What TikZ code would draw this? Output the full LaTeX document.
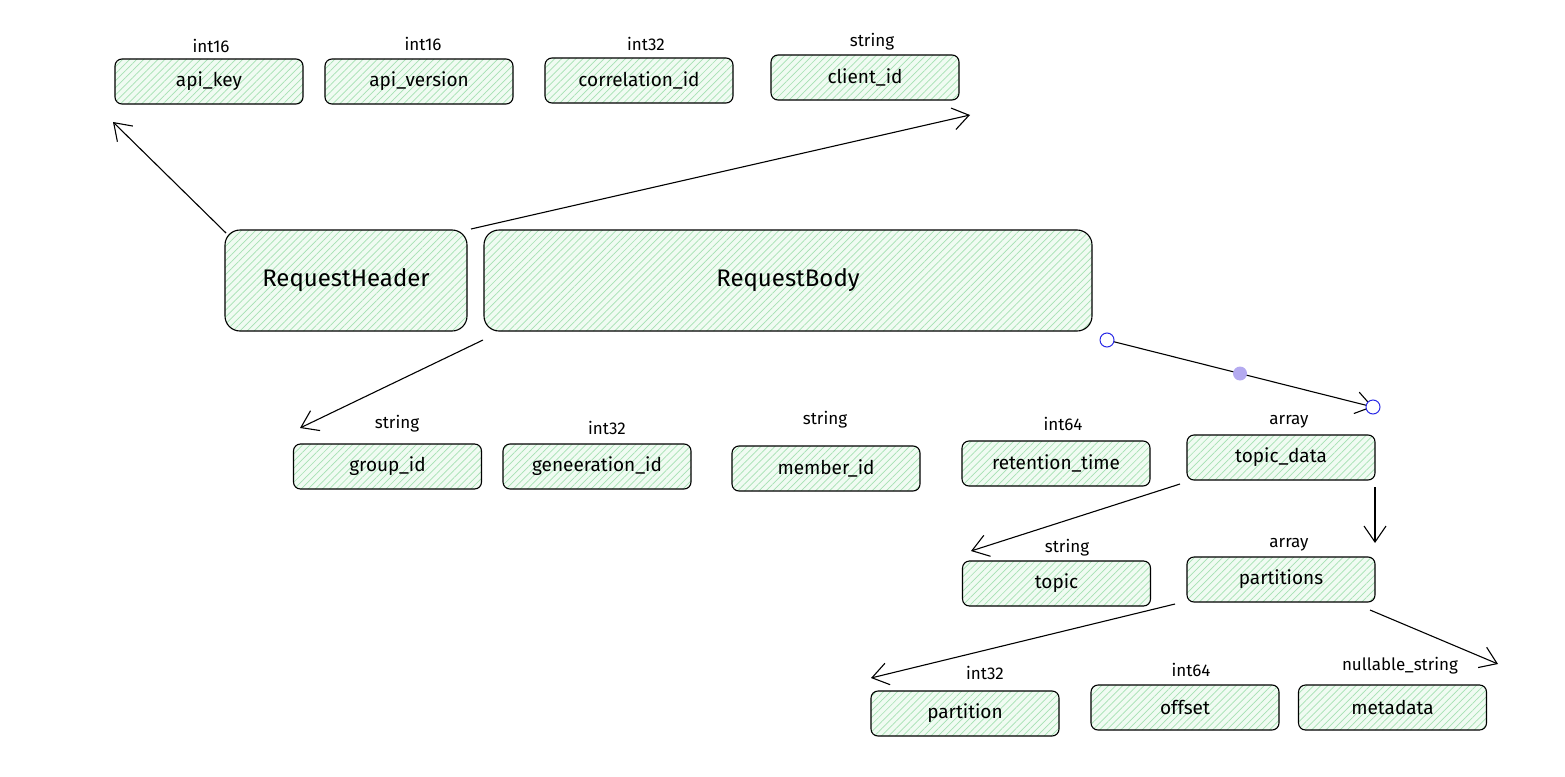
\documentclass[tikz,border=0pt]{standalone}
\usepackage{fontspec}
\setmainfont{Fira Sans}
\usetikzlibrary{patterns.meta,arrows.meta}
\definecolor{boxfill}{RGB}{240,251,242}
\definecolor{hatch}{RGB}{165,225,178}
\definecolor{handle}{RGB}{40,40,230}
\definecolor{middot}{RGB}{180,170,240}
\tikzset{
  field/.style={draw=black, line width=1.1pt, rounded corners=7pt,
    preaction={fill=boxfill},
    pattern={Lines[angle=45,distance=5pt,line width=0.7pt]}, pattern color=hatch,
    minimum width=188pt, minimum height=45pt, inner sep=0pt,
    font=\fontsize{19}{22}\selectfont},
  bigbox/.style={field, rounded corners=15pt, minimum height=101pt,
    font=\fontsize{24}{28}\selectfont},
  typelabel/.style={font=\fontsize{17}{20}\selectfont, inner sep=0pt},
  conn/.style={line width=1.1pt, -{Straight Barb[length=16pt,width=22pt,line width=1.1pt]}},
}
\begin{document}
\begin{tikzpicture}[x=1pt,y=-1pt]
\useasboundingbox (0,0) rectangle (1565,776);
% header fields
\node[field] (apikey) at (209,81.5) {api\_key};
\node[typelabel] (tapikey) at (211,46) {int16};
\node[field] (apiversion) at (419,81.5) {api\_version};
\node[typelabel] (tapiversion) at (423,44) {int16};
\node[field] (corr) at (639,80.5) {correlation\_id};
\node[typelabel] (tcorr) at (646,44) {int32};
\node[field] (client) at (865,77.5) {client\_id};
\node[typelabel] (tclient) at (872,42) {string};
% main boxes
\node[bigbox, minimum width=242pt] (header) at (346,280.5) {RequestHeader};
\node[bigbox, minimum width=608pt] (body) at (788,280.5) {RequestBody};
% body fields
\node[field] (group) at (387.5,466.5) {group\_id};
\node[typelabel] (tgroup) at (397,424) {string};
\node[field] (gen) at (597,466.5) {geneeration\_id};
\node[typelabel] (tgen) at (607,428) {int32};
\node[field] (member) at (826,468.5) {member\_id};
\node[typelabel] (tmember) at (825,420) {string};
\node[field] (retention) at (1056,463.5) {retention\_time};
\node[typelabel] (tretention) at (1063,424) {int64};
\node[field] (topicdata) at (1281,457.5) {topic\_data};
\node[typelabel] (ttopicdata) at (1289,422) {array};
\node[field] (topic) at (1056.5,583.5) {topic};
\node[typelabel] (ttopic) at (1067,548) {string};
\node[field] (partitions) at (1281,579.5) {partitions};
\node[typelabel] (tpartitions) at (1289,545) {array};
\node[field] (partition) at (965,713.5) {partition};
\node[typelabel] (tpartition) at (985,673) {int32};
\node[field] (offset) at (1185,707.5) {offset};
\node[typelabel] (toffset) at (1191,670) {int64};
\node[field] (metadata) at (1392.5,707.5) {metadata};
\node[typelabel] (tmetadata) at (1400,666) {nullable\_string};
% arrow end points
\coordinate (a1s) at (226,233);
\coordinate (a1e) at (113,122);
\coordinate (a2s) at (471,229);
\coordinate (a2e) at (970,115);
\coordinate (a3s) at (483,340);
\coordinate (a3e) at (300,428);
\coordinate (a4s) at (1107,340);
\coordinate (a4e) at (1373,407);
\coordinate (a4m) at (1240,373.5);
\coordinate (a5s) at (1180,484);
\coordinate (a5e) at (971,551);
\coordinate (a6s) at (1375,487);
\coordinate (a6e) at (1375,543);
\coordinate (a7s) at (1175,604);
\coordinate (a7e) at (871,678);
\coordinate (a8s) at (1370,610);
\coordinate (a8e) at (1498,664);
\draw[conn] (a1s) -- (a1e);
\draw[conn] (a2s) -- (a2e);
\draw[conn] (a3s) -- (a3e);
\draw[conn] (a4s) -- (a4e);
\draw[conn] (a5s) -- (a5e);
\draw[conn] (a6s) -- (a6e);
\draw[conn] (a7s) -- (a7e);
\draw[conn] (a8s) -- (a8e);
% selection handles
\fill[middot] (a4m) circle (7pt);
\draw[handle, fill=white, line width=1pt] (a4s) circle (7pt);
\draw[handle, fill=white, line width=1pt] (a4e) circle (7pt);
\end{tikzpicture}
\end{document}
